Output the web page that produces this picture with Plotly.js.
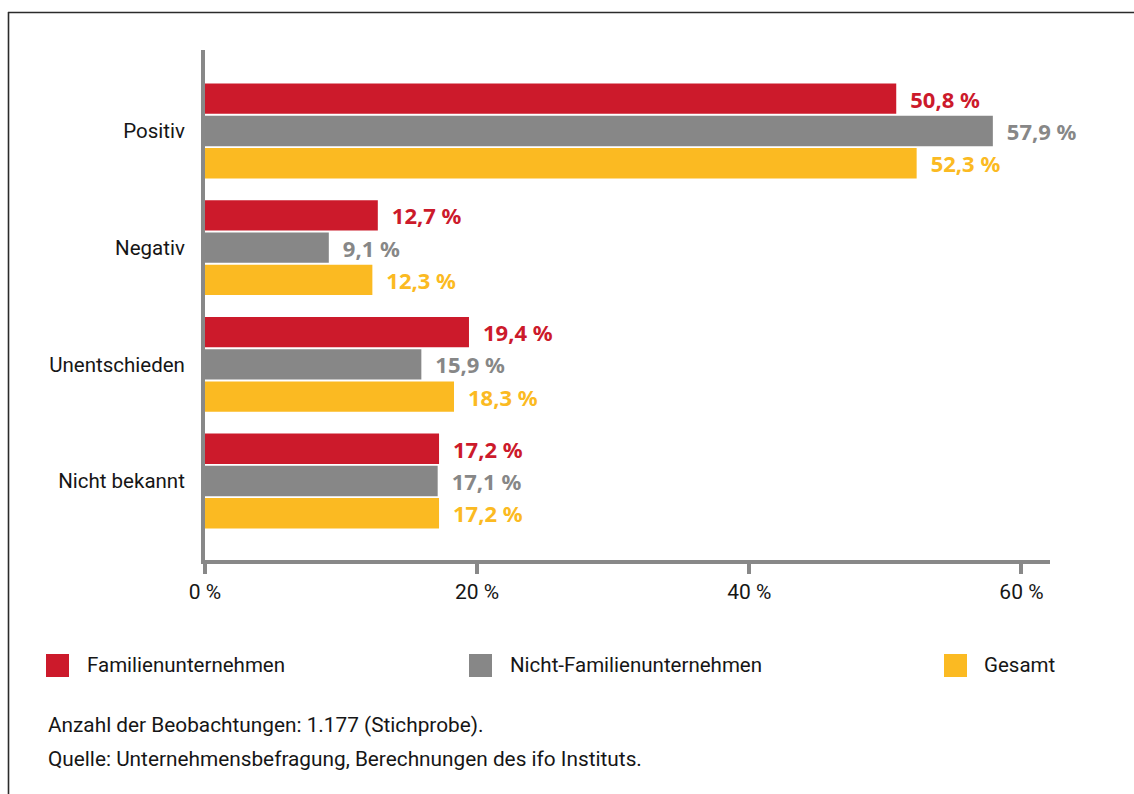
<!DOCTYPE html>
<html>
<head>
<meta charset="utf-8">
<script src="https://cdn.plot.ly/plotly-3.0.1.min.js"></script>
<style>
  html, body { margin: 0; padding: 0; background: #fff; }
  #chart { width: 1134px; height: 794px; }
</style>
</head>
<body>
<div id="chart"></div>
<script>
const categories = ['Positiv', 'Negativ', 'Unentschieden', 'Nicht bekannt'];
const seriesNames = ['Familienunternehmen', 'Nicht-Familienunternehmen', 'Gesamt'];
const familien = [50.8, 12.7, 19.4, 17.2];
const nichtFamilien = [57.9, 9.1, 15.9, 17.1];
const gesamt = [52.3, 12.3, 18.3, 17.2];
const tickVals = [0, 20, 40, 60];
const tickLabels = ['0 %', '20 %', '40 %', '60 %'];
const footnotes = ['Anzahl der Beobachtungen: 1.177 (Stichprobe).',
                   'Quelle: Unternehmensbefragung, Berechnungen des ifo Instituts.'];

const colors = ['#CC1A2B', '#878787', '#FBBA22'];
const FONT = 'Roboto, "Noto Sans", sans-serif';
const BOLD = '"Noto Sans", sans-serif';

const values = [familien, nichtFamilien, gesamt];
const traces = values.map((v, i) => ({
  type: 'bar',
  orientation: 'h',
  name: seriesNames[i],
  y: categories,
  x: v,
  marker: { color: colors[i] },
  texttemplate: '\u2002%{x:.1f} %',
  textposition: 'outside',
  constraintext: 'none',
  cliponaxis: false,
  textfont: { family: BOLD, size: 22, color: colors[i], weight: 'bold' },
  hoverinfo: 'skip',
  showlegend: false
}));

// plot area in pixels: x 205..1050, y 50..560
const L = 205, R = 1050, T = 50, B = 560;
const px = x => (x - L) / (R - L);
const py = y => (B - y) / (B - T);

const shapes = [];
const annotations = [];
const legendSq = [46, 469, 944];
const legendTx = [85, 508, 982];
seriesNames.forEach((n, i) => {
  shapes.push({ type: 'rect', xref: 'paper', yref: 'paper',
    x0: px(legendSq[i]), x1: px(legendSq[i] + 23), y0: py(677), y1: py(654),
    fillcolor: colors[i], line: { width: 0 } });
  annotations.push({ xref: 'paper', yref: 'paper', x: px(legendTx[i]), y: py(665),
    xanchor: 'left', yanchor: 'middle', showarrow: false, text: n,
    font: { family: FONT, size: 20.5, color: '#161616' } });
});
footnotes.forEach((t, i) => {
  annotations.push({ xref: 'paper', yref: 'paper', x: px(46), y: py(725 + 34 * i),
    xanchor: 'left', yanchor: 'middle', showarrow: false, text: t,
    font: { family: FONT, size: 20.8, color: '#161616' } });
});
// frame
shapes.push({ type: 'line', xref: 'paper', yref: 'paper', x0: px(8), x1: px(1140), y0: py(12.5), y1: py(12.5),
  line: { color: '#2b2b2b', width: 1.6 } });
shapes.push({ type: 'line', xref: 'paper', yref: 'paper', x0: px(8.5), x1: px(8.5), y0: py(12), y1: py(800),
  line: { color: '#2b2b2b', width: 1.6 } });

const layout = {
  width: 1134, height: 794,
  margin: { l: L, r: 1134 - R, t: T, b: 794 - B, pad: 0 },
  paper_bgcolor: '#ffffff', plot_bgcolor: '#ffffff',
  barmode: 'group', bargap: 0.17, bargroupgap: 0.06,
  separators: ', ',
  font: { family: FONT, size: 21, color: '#161616' },
  xaxis: {
    range: [0, 62.1], tickvals: tickVals, ticktext: tickLabels,
    showgrid: false, zeroline: false,
    showline: true, linecolor: '#888888', linewidth: 4,
    ticks: 'outside', ticklen: 10, tickwidth: 4, tickcolor: '#888888',
    tickfont: { family: FONT, size: 21, color: '#161616' }, fixedrange: true
  },
  yaxis: {
    range: [3.677, -0.694], showgrid: false, zeroline: false,
    showline: true, linecolor: '#888888', linewidth: 4,
    ticks: 'outside', ticklen: 12, tickcolor: 'rgba(0,0,0,0)',
    tickfont: { family: FONT, size: 20.5, color: '#161616' }, fixedrange: true
  },
  shapes: shapes,
  annotations: annotations,
  showlegend: false
};

Plotly.newPlot('chart', traces, layout, { displayModeBar: false, staticPlot: true });
</script>
</body>
</html>
